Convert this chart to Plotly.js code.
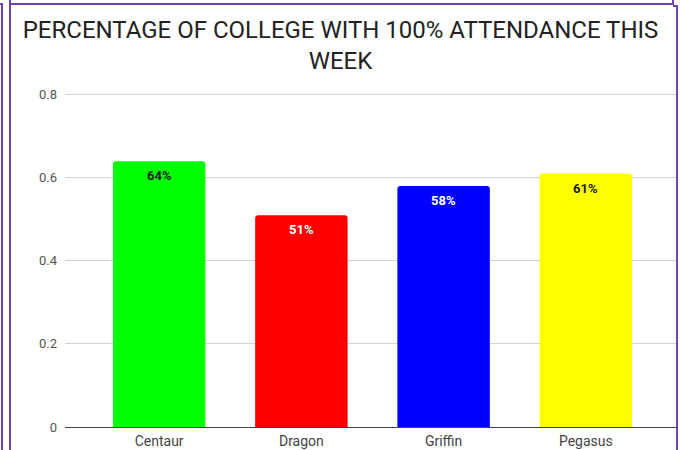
<!DOCTYPE html>
<html>
<head>
<meta charset="utf-8">
<script src="https://cdn.plot.ly/plotly-3.0.1.min.js"></script>
<style>
  html, body { margin: 0; padding: 0; background: #fff; }
  #wrap { position: relative; width: 681px; height: 450px; overflow: hidden; }
  #chart { position: absolute; left: 0; top: 0; width: 681px; height: 450px; }
  .ln { position: absolute; background: #6f42b0; }
</style>
</head>
<body>
<div id="wrap">
  <div id="chart"></div>
  <div class="ln" style="left:0;top:3px;width:3px;height:2px;"></div>
  <div class="ln" style="left:1px;top:3px;width:2px;height:447px;"></div>
  <div class="ln" style="left:9px;top:0;width:2px;height:450px;"></div>
  <div class="ln" style="left:10px;top:3px;width:664px;height:2px;"></div>
  <div class="ln" style="left:672px;top:0;width:2px;height:5px;"></div>
  <div class="ln" style="left:673px;top:5px;width:5px;height:2px;"></div>
  <div class="ln" style="left:676px;top:5px;width:2px;height:445px;"></div>
</div>
<script>
const categories = ["Centaur", "Dragon", "Griffin", "Pegasus"];
const values = [0.64, 0.51, 0.58, 0.61];
const barColors = ["#00ff00", "#ff0000", "#0000ff", "#ffff00"];
const labelColors = ["#1b1b1b", "#ffffff", "#ffffff", "#1b1b1b"];
const yTicks = [0, 0.2, 0.4, 0.6, 0.8];
const yTickText = ["0", "0.2", "0.4", "0.6", "0.8"];

const trace = {
  type: "bar",
  x: categories,
  y: values,
  width: 0.65,
  marker: { color: barColors, line: { width: 0 } },
  hoverinfo: "skip"
};

const annotations = categories.map((c, i) => ({
  x: c,
  y: values[i],
  xref: "x",
  yref: "y",
  text: "<b>" + Math.round(values[i] * 100) + "%</b>",
  showarrow: false,
  yanchor: "top",
  yshift: -5,
  font: { family: "Roboto, Arial, sans-serif", size: 13, color: labelColors[i] }
}));

const layout = {
  width: 681,
  height: 450,
  margin: { l: 65, r: 5, t: 93, b: 23, pad: 0 },
  paper_bgcolor: "#ffffff",
  plot_bgcolor: "#ffffff",
  showlegend: false,
  barcornerradius: 3,
  annotations: annotations,
  title: {
    text: "PERCENTAGE OF COLLEGE WITH 100% ATTENDANCE THIS<br>WEEK",
    font: { family: "Roboto, Arial, sans-serif", size: 24, color: "#222222" },
    x: 0.5,
    xanchor: "center",
    xref: "container",
    yref: "container",
    y: 1 - 37.5 / 450,
    yanchor: "top"
  },
  xaxis: {
    type: "category",
    range: [-0.662, 3.634],
    showgrid: false,
    zeroline: false,
    showline: false,
    ticks: "",
    ticklabelstandoff: 4,
    tickfont: { family: "Roboto, Arial, sans-serif", size: 14, color: "#444444" },
    fixedrange: true
  },
  yaxis: {
    range: [0, 0.804],
    tickvals: yTicks,
    ticktext: yTickText,
    showgrid: true,
    gridcolor: "#d4d4d4",
    gridwidth: 1,
    zeroline: true,
    zerolinecolor: "#444444",
    zerolinewidth: 1,
    showline: false,
    ticks: "",
    ticklabelstandoff: 7,
    tickfont: { family: "Roboto, Arial, sans-serif", size: 13, color: "#555555" },
    fixedrange: true
  }
};

Plotly.newPlot("chart", [trace], layout, { displayModeBar: false, staticPlot: true });
</script>
</body>
</html>
